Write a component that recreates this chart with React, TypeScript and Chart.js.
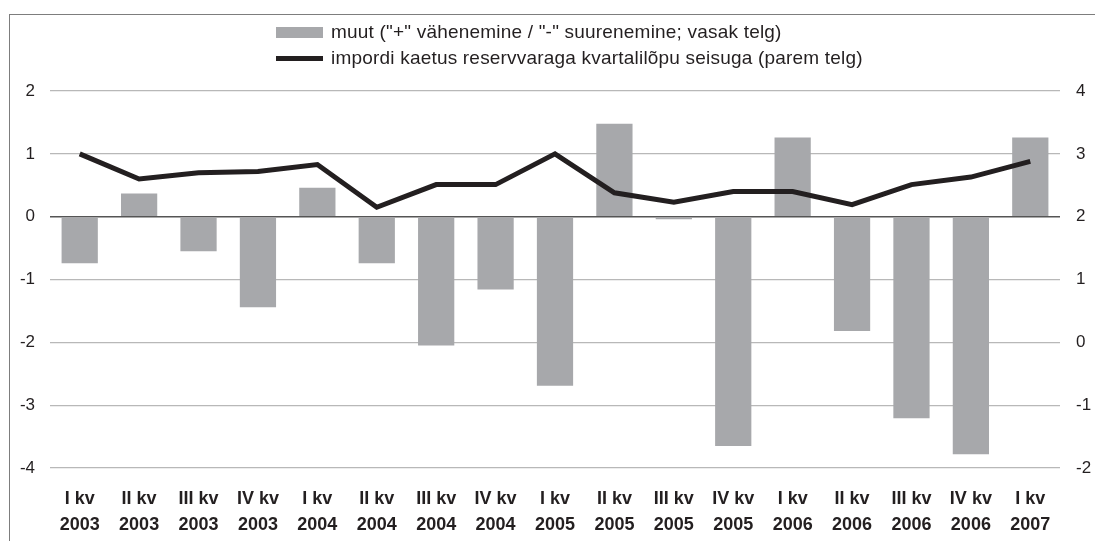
import { useEffect, useRef } from "react";
import { Chart, registerables } from "chart.js";

Chart.register(...registerables);

const categories: string[][] = [
  ["I kv", "2003"], ["II kv", "2003"], ["III kv", "2003"], ["IV kv", "2003"],
  ["I kv", "2004"], ["II kv", "2004"], ["III kv", "2004"], ["IV kv", "2004"],
  ["I kv", "2005"], ["II kv", "2005"], ["III kv", "2005"], ["IV kv", "2005"],
  ["I kv", "2006"], ["II kv", "2006"], ["III kv", "2006"], ["IV kv", "2006"],
  ["I kv", "2007"],
];

const changeValues = [
  -0.74, 0.37, -0.55, -1.44, 0.46, -0.74, -2.05, -1.16, -2.69, 1.48, -0.04, -3.65,
  1.26, -1.82, -3.21, -3.78, 1.26,
];

const coverageValues = [
  3.0, 2.6, 2.7, 2.72, 2.83, 2.15, 2.51, 2.51, 3.0, 2.38, 2.23, 2.4, 2.4, 2.19,
  2.51, 2.63, 2.88,
];

const barLabel = 'muut ("+" vähenemine / "-" suurenemine; vasak telg)';
const lineLabel = "impordi kaetus reservvaraga kvartalilõpu seisuga (parem telg)";

const leftMin = -4;
const leftMax = 2;
const rightMin = -2;
const rightMax = 4;

const FONT = "'Liberation Sans', Arial, Helvetica, sans-serif";
const TEXT = "#231f20";
const BAR = "#a7a8ab";

export default function App() {
  const ref = useRef<HTMLCanvasElement | null>(null);

  useEffect(() => {
    if (!ref.current) return;
    const chart = new Chart(ref.current, {
      type: "bar",
      data: {
        labels: categories,
        datasets: [
          {
            type: "line",
            label: lineLabel,
            data: coverageValues,
            yAxisID: "y1",
            borderColor: TEXT,
            backgroundColor: TEXT,
            borderWidth: 5,
            pointRadius: 0,
            tension: 0,
            borderJoinStyle: "miter",
            borderCapStyle: "butt",
            order: 0,
          } as any,
          {
            type: "bar",
            label: barLabel,
            data: changeValues,
            yAxisID: "y",
            backgroundColor: BAR,
            borderWidth: 0,
            categoryPercentage: 1,
            barPercentage: 0.61,
            order: 1,
          },
        ],
      },
      options: {
        animation: false,
        responsive: false,
        maintainAspectRatio: false,
        layout: { padding: { top: 91, left: 0, right: 0, bottom: 0 } },
        plugins: {
          legend: { display: false },
          tooltip: { enabled: false },
        },
        scales: {
          x: {
            grid: { display: false },
            border: { display: false },
            ticks: {
              color: TEXT,
              font: { family: FONT, size: 18, weight: "bold", lineHeight: 1.45 },
              padding: 10,
              maxRotation: 0,
              autoSkip: false,
            },
            afterFit: (s: any) => {
              s.height = 73;
            },
          },
          y: {
            position: "left",
            min: leftMin,
            max: leftMax,
            grid: {
              drawTicks: false,
              color: (c: any) => (c.tick && c.tick.value === 0 ? "#555555" : "#b8b8b8"),
              lineWidth: (c: any) => (c.tick && c.tick.value === 0 ? 1.5 : 1.2),
            },
            border: { display: false },
            ticks: {
              stepSize: 1,
              color: TEXT,
              font: { family: FONT, size: 17 },
              padding: 15,
            },
            afterFit: (s: any) => {
              s.width = 50;
            },
          },
          y1: {
            position: "right",
            min: rightMin,
            max: rightMax,
            grid: { display: false, drawTicks: false },
            border: { display: false },
            ticks: {
              stepSize: 1,
              color: TEXT,
              font: { family: FONT, size: 17 },
              padding: 16,
            },
            afterFit: (s: any) => {
              s.width = 35;
            },
          },
        },
      },
    });
    return () => chart.destroy();
  }, []);

  const legendText = {
    position: "absolute" as const,
    left: 331,
    height: 22,
    lineHeight: "22px",
    fontSize: 19,
    letterSpacing: "0.2px",
    color: TEXT,
    whiteSpace: "nowrap" as const,
  };

  return (
    <div
      style={{
        position: "fixed",
        left: 0,
        top: 0,
        width: 1095,
        height: 541,
        background: "#ffffff",
        overflow: "hidden",
        fontFamily: FONT,
      }}
    >
      <div
        style={{
          position: "absolute",
          left: 9,
          top: 14,
          width: 1200,
          height: 600,
          borderLeft: "1px solid #7d7d7d",
          borderTop: "1.5px solid #7d7d7d",
        }}
      />
      <canvas
        ref={ref}
        width={1095}
        height={541}
        style={{ position: "absolute", left: 0, top: 0, width: 1095, height: 541 }}
      />
      <div
        style={{
          position: "absolute",
          left: 276,
          top: 27,
          width: 47,
          height: 11,
          background: BAR,
        }}
      />
      <div style={{ ...legendText, top: 21 }}>{barLabel}</div>
      <div
        style={{
          position: "absolute",
          left: 276,
          top: 56,
          width: 47,
          height: 5,
          background: TEXT,
        }}
      />
      <div style={{ ...legendText, top: 47 }}>{lineLabel}</div>
    </div>
  );
}
